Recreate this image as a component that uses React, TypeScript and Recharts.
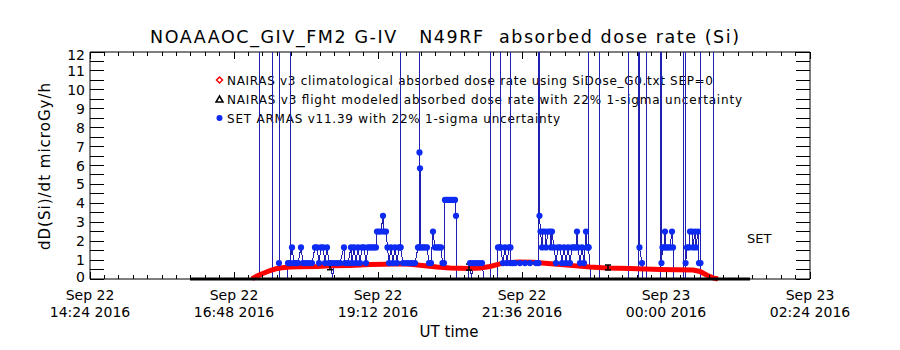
import { ComposedChart, ErrorBar, Line, ReferenceLine, XAxis, YAxis } from "recharts";

// time axis: minutes after Sep 22 14:24 UT
const setTime = [
  100, 130, 160, 169, 169, 169, 182, 182, 182, 189,
  189, 189, 190, 197, 198, 200, 200, 200, 202, 204,
  206, 208, 211, 213, 216, 219, 222, 225, 227, 229,
  231, 233, 235, 237, 239, 241, 242.5, 244, 247, 250,
  254, 255, 258, 261, 262, 264, 266, 268, 270, 272,
  274, 276, 278, 280, 282, 284, 286, 287, 289, 291,
  293, 294, 296, 297.5, 299, 301, 303, 305, 307, 309,
  310.5, 310.5, 310.5, 313, 316, 319, 322, 325, 328, 329,
  329, 329.5, 330, 331, 333, 335, 337, 339, 341, 343,
  345, 347, 349, 351, 352.5, 354, 355, 357, 359, 361,
  363, 365, 366, 367, 372, 378, 380, 381.5, 383, 386,
  389, 392, 394, 400, 400, 400, 407, 408, 410.5, 410.5,
  410.5, 413, 415, 417, 419, 420.5, 420.5, 420.5, 422.5, 425,
  430, 435, 440, 446, 448.5, 448.5, 449.5, 450.5, 452, 453,
  455, 456, 458, 460, 461, 462, 464, 466, 468, 470,
  472, 474, 476, 478, 480, 482, 484, 486, 487, 488,
  490, 492, 494, 496, 497, 498.5, 498.5, 498.5, 501, 505,
  509, 509, 509, 520, 530, 538, 538, 538, 548.5, 548.5,
  549.5, 552, 553, 556, 556, 556, 565, 570.5, 570.5, 571.5,
  572.5, 574, 575, 576, 578, 580, 582, 583, 584, 593,
  593, 593, 595, 595, 595.6, 597, 599, 600, 602, 603,
  605, 606, 608, 609, 610.5, 610.5, 610.5, 623, 623, 623,
  640, 660
];
const setDose = [
  0, 0, 0, 0, 45, 0, 0, 38, 0, 0,
  52, 0.84, 0, 0, 0.84, 0.84, 41, 0.84, 1.67, 0.84,
  0.84, 0.84, 1.67, 0.84, 0.84, 0.84, 0.84, 1.67, 1.67, 0.84,
  1.67, 1.67, 0.84, 1.67, 0.84, 0.84, 0, 0.84, 0.84, 0.84,
  1.67, 0.84, 0.84, 1.67, 0.84, 1.67, 0.84, 1.67, 0.84, 1.67,
  1.67, 0.84, 1.67, 1.67, 1.67, 1.67, 1.67, 2.51, 2.51, 2.51,
  3.34, 2.51, 2.51, 1.67, 0.84, 1.67, 0.84, 1.67, 0.84, 1.67,
  1.67, 57, 1.67, 0.84, 0.84, 0.84, 0.84, 0.84, 1.67, 1.67,
  44, 6.69, 5.85, 1.67, 1.67, 1.67, 1.67, 0.84, 0.84, 2.51,
  1.67, 1.67, 1.67, 1.67, 0.84, 0.84, 4.18, 4.18, 4.18, 4.18,
  4.18, 4.18, 3.34, 0, 0, 0, 0.84, 0, 0.84, 0.84,
  0.84, 0.84, 0, 0, 36, 0, 0, 1.67, 1.67, 49,
  1.67, 0.84, 1.67, 0.84, 1.67, 1.67, 40, 0.84, 0.84, 0.84,
  0.84, 0.84, 0.84, 0.84, 0.84, 55, 3.34, 2.51, 1.67, 2.51,
  2.51, 1.67, 2.51, 2.51, 1.67, 2.51, 1.67, 0.84, 1.67, 1.67,
  0.84, 1.67, 0.84, 1.67, 0.84, 1.67, 1.67, 1.67, 2.51, 1.67,
  0.84, 1.67, 0.84, 2.51, 1.67, 1.67, 47, 1.67, 0, 0,
  0, 39, 0, 0, 0, 0, 43, 0, 0, 51,
  1.67, 0.84, 0, 0, 37, 0, 0, 0, 46, 0.84,
  1.67, 1.67, 2.51, 1.67, 1.67, 1.67, 2.51, 1.67, 0, 0,
  42, 0, 0, 53, 0.84, 1.67, 1.67, 2.51, 2.51, 1.67,
  2.51, 1.67, 2.51, 0.84, 0.84, 48, 0, 0, 40, 0,
  0, 0
];

const nairasTime = [
  162, 168, 174, 180, 186, 192, 200, 210, 227, 240, 260, 280, 295, 310, 320, 330, 347, 360, 380, 390,
  400, 410, 420, 430, 443, 455, 467, 480, 500, 517, 540, 570, 603, 610, 617, 623, 628
];
const nairasDose = [
  0.02, 0.18, 0.32, 0.44, 0.54, 0.59, 0.63, 0.65, 0.66, 0.7, 0.72, 0.76, 0.78, 0.8, 0.78, 0.73, 0.63, 0.58, 0.55, 0.58,
  0.66, 0.8, 0.87, 0.9, 0.88, 0.83, 0.78, 0.72, 0.63, 0.58, 0.55, 0.5, 0.47, 0.4, 0.2, 0.06, 0
];

const modelTime = [100, 170, 240, 310, 380, 450, 520, 590, 660];
const modelDose = [0, 0, 0, 0, 0, 0, 0, 0, 0];

const errTime = [240, 379, 518];
const errDose = [0.69, 0.63, 0.61];
const errSigma = [0.2, 0.16, 0.13];

const dateLabels = ["Sep 22", "Sep 22", "Sep 22", "Sep 22", "Sep 23", "Sep 23"];
const timeLabels = ["14:24 2016", "16:48 2016", "19:12 2016", "21:36 2016", "00:00 2016", "02:24 2016"];

const legendLabels = [
  "NAIRAS v3 climatological absorbed dose rate using SiDose_G0.txt SEP=0",
  "NAIRAS v3 flight modeled absorbed dose rate with 22% 1-sigma uncertainty",
  "SET ARMAS v11.39 with 22% 1-sigma uncertainty"
];

const FONT = "DejaVu Sans";
const BLUE_LINE = "#1f1fb0";
const BLUE_DOT = "#0d2bf2";
const PLOT_W = 720;
const PLOT_H = 227;

const xTicks = Array.from({ length: 51 }, (_, i) => i * 14.4);
const yTicks = Array.from({ length: 25 }, (_, i) => i * 0.5);

const setData = setTime.map((t, i) => ({ t, v: setDose[i] }));
const nairasData = nairasTime.map((t, i) => ({ t, v: nairasDose[i] }));
const modelData = modelTime.map((t, i) => ({ t, v: modelDose[i] }));
const errData = errTime.map((t, i) => ({ t, v: errDose[i], e: errSigma[i] }));

const XTick = (props: any) => {
  const { x, y, payload } = props;
  const k = Math.round(payload.value / 144);
  const major = Math.abs(payload.value - k * 144) < 1e-6;
  const len = major ? 7 : 4;
  return (
    <g>
      <line x1={x} x2={x} y1={y} y2={y - len} stroke="#000" shapeRendering="crispEdges" />
      <line x1={x} x2={x} y1={y - PLOT_H} y2={y - PLOT_H + len} stroke="#000" shapeRendering="crispEdges" />
      {major && (
        <text x={x} y={y + 21} textAnchor="middle" fontFamily={FONT} fontSize={14} fill="#000" style={{ whiteSpace: "pre" }}>
          {dateLabels[k]}
        </text>
      )}
      {major && (
        <text x={x} y={y + 38} textAnchor="middle" fontFamily={FONT} fontSize={14} fill="#000" style={{ whiteSpace: "pre" }}>
          {timeLabels[k]}
        </text>
      )}
    </g>
  );
};

const YTick = (props: any) => {
  const { x, y, payload } = props;
  const v = payload.value;
  const isInt = Math.abs(v - Math.round(v)) < 1e-6;
  let dy = 5;
  if (v === 12) dy = 7.5;
  if (v === 0) dy = 2.5;
  return (
    <g>
      <line x1={x} x2={x + 14} y1={y} y2={y} stroke="#000" shapeRendering="crispEdges" />
      <line x1={x + PLOT_W} x2={x + PLOT_W - 14} y1={y} y2={y} stroke="#000" shapeRendering="crispEdges" />
      {isInt && (
        <text x={x - 5} y={y + dy} textAnchor="end" fontFamily={FONT} fontSize={14} fill="#000">
          {Math.round(v)}
        </text>
      )}
    </g>
  );
};

const SetDot = (p: any) => {
  const { cx, cy, payload, index } = p;
  if (!payload || !(payload.v > 0) || cx == null || cy == null) return <g key={`d${index}`} />;
  return <circle key={`d${index}`} cx={cx} cy={cy} r={3.1} fill={BLUE_DOT} />;
};

const App = () => {
  return (
    <div style={{ position: "relative", width: 884, height: 334 }}>
      <svg width={884} height={334} style={{ position: "absolute", left: 0, top: 0 }}>
        <text x={142} y={35} fontFamily={FONT} fontSize={17.5} fill="#000" textLength={589} lengthAdjust="spacing" style={{ whiteSpace: "pre" }}>
          {"NOAAAOC_GIV_FM2 G-IV   N49RF  absorbed dose rate (Si)"}
        </text>
        <text
          x={0}
          y={0}
          transform="translate(42 158.5) rotate(-90)"
          textAnchor="middle"
          fontFamily={FONT}
          fontSize={15}
          fill="#000"
          textLength={167}
          lengthAdjust="spacing"
        >
          dD(Si)/dt microGy/h
        </text>
        <text x={441} y={329} textAnchor="middle" fontFamily={FONT} fontSize={15} fill="#000">
          UT time
        </text>
        <text x={739} y={235} fontFamily={FONT} fontSize={13} fill="#000">
          SET
        </text>
        <polygon points="211.5,69 214.5,72 211.5,75 208.5,72" fill="#fff" stroke="#ff0000" strokeWidth={1.5} />
        <polygon points="211.5,88 215,94 208,94" fill="none" stroke="#000" strokeWidth={1.5} />
        <circle cx={211.5} cy={110} r={3} fill={BLUE_DOT} />
        <text x={219} y={76.5} fontFamily={FONT} fontSize={12} fill="#000" textLength={486} lengthAdjust="spacing">
          {legendLabels[0]}
        </text>
        <text x={219} y={95.5} fontFamily={FONT} fontSize={12} fill="#000" textLength={515} lengthAdjust="spacing">
          {legendLabels[1]}
        </text>
        <text x={219} y={114.5} fontFamily={FONT} fontSize={12} fill="#000" textLength={333} lengthAdjust="spacing">
          {legendLabels[2]}
        </text>
      </svg>
      <div style={{ position: "absolute", left: 0, top: 0 }}>
        <ComposedChart width={884} height={334} margin={{ top: 44, right: 82, bottom: 62, left: 81 }}>
          <XAxis
            xAxisId="b"
            type="number"
            dataKey="t"
            domain={[0, 720]}
            allowDataOverflow
            ticks={xTicks}
            interval={0}
            tick={XTick}
            tickLine={false}
            tickSize={0}
            tickMargin={0}
            height={1}
            axisLine={{ stroke: "#000" }}
          />
          <YAxis
            yAxisId="l"
            type="number"
            domain={[0, 12]}
            allowDataOverflow
            ticks={yTicks}
            interval={0}
            tick={YTick}
            tickLine={false}
            tickSize={0}
            tickMargin={0}
            width={1}
            axisLine={{ stroke: "#000" }}
          />
          <YAxis yAxisId="n" type="number" domain={[0, 12]} hide />
          <ReferenceLine xAxisId="b" yAxisId="l" y={12} stroke="#000" />
          <ReferenceLine xAxisId="b" yAxisId="l" x={720} stroke="#000" />
          <Line
            xAxisId="b"
            yAxisId="l"
            data={setData}
            dataKey="v"
            type="linear"
            stroke={BLUE_LINE}
            strokeWidth={1}
            shapeRendering="crispEdges"
            dot={SetDot}
            activeDot={false}
            isAnimationActive={false}
          />
          <Line
            xAxisId="b"
            yAxisId="n"
            data={nairasData}
            dataKey="v"
            type="linear"
            stroke="#ff0000"
            strokeWidth={5}
            dot={false}
            activeDot={false}
            isAnimationActive={false}
          />
          <Line
            xAxisId="b"
            yAxisId="n"
            data={modelData}
            dataKey="v"
            type="linear"
            stroke="#000"
            strokeWidth={3}
            dot={false}
            activeDot={false}
            isAnimationActive={false}
          />
          <Line
            xAxisId="b"
            yAxisId="n"
            data={errData}
            dataKey="v"
            stroke="none"
            dot={false}
            activeDot={false}
            isAnimationActive={false}
          >
            <ErrorBar dataKey="e" width={3} stroke="#000" strokeWidth={1.5} direction="y" />
          </Line>
        </ComposedChart>
      </div>
    </div>
  );
};

export default App;
